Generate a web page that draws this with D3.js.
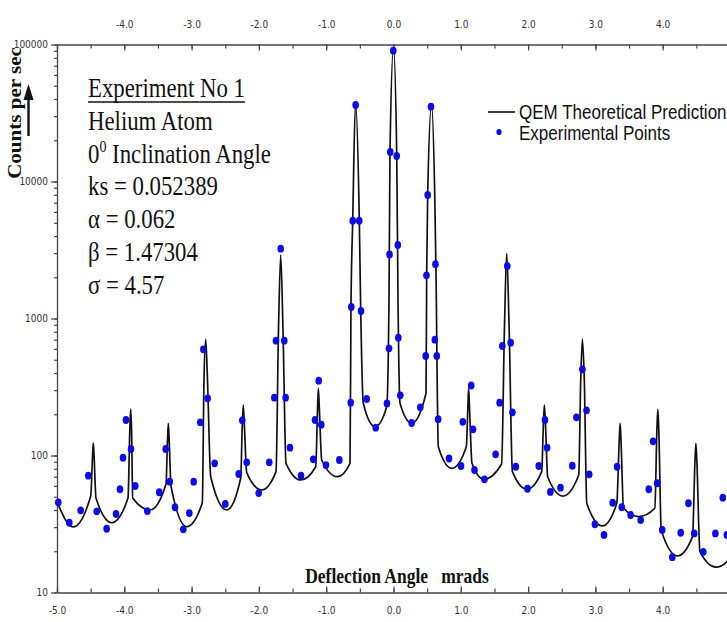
<!DOCTYPE html>
<html>
<head>
<meta charset="utf-8">
<script src="https://cdn.jsdelivr.net/npm/d3@7"></script>
<style>
  body { margin: 0; background: #fff; }
  svg { display: block; }
</style>
</head>
<body>
<div id="chart"></div>
<script>
// x ticks (mrad) and y decades
var xMajor = [-5, -4, -3, -2, -1, 0, 1, 2, 3, 4, 5];
var xTopLabels = [-4, -3, -2, -1, 0, 1, 2, 3, 4];
var xBottomLabels = [-5, -4, -3, -2, -1, 0, 1, 2, 3, 4];
var yMajor = [10, 100, 1000, 10000, 100000];

// QEM theoretical prediction
var theoryX = [-5.000, -4.762, -4.499, -4.472, -4.461, -4.449, -4.421, -4.187, -3.945, -3.918,
  -3.905, -3.892, -3.875, -3.618, -3.380, -3.358, -3.346, -3.333, -3.306, -3.073,
  -2.841, -2.816, -2.790, -2.764, -2.716, -2.478, -2.270, -2.247, -2.232, -2.216,
  -2.181, -1.958, -1.746, -1.709, -1.676, -1.642, -1.597, -1.379, -1.156, -1.129,
  -1.117, -1.101, -1.067, -0.835, -0.646, -0.632, -0.606, -0.565, -0.508, -0.487,
  -0.449, -0.275, -0.101, -0.067, -0.052, 0.000, 0.048, 0.067, 0.097, 0.270,
  0.483, 0.493, 0.508, 0.565, 0.614, 0.630, 0.666, 0.866, 1.082, 1.106,
  1.116, 1.128, 1.166, 1.342, 1.606, 1.648, 1.682, 1.719, 1.767, 1.982,
  2.202, 2.227, 2.242, 2.259, 2.291, 2.517, 2.752, 2.782, 2.807, 2.835,
  2.872, 3.103, 3.318, 3.354, 3.367, 3.380, 3.418, 3.642, 3.883, 3.914,
  3.927, 3.942, 3.978, 4.218, 4.443, 4.480, 4.493, 4.507, 4.553, 4.794,
  4.955, 5.000];
var theoryY = [46.0, 30.1, 50.6, 99.2, 123.4, 99.2, 48.9, 32.3, 48.9, 153.5,
  218.5, 153.5, 48.9, 40.0, 61.9, 129.8, 171.8, 129.8, 59.9, 30.2,
  45.2, 355.7, 705, 355.7, 70.0, 40.0, 68.5, 167, 233.7, 167,
  74.9, 56.0, 76.2, 824, 2907, 824, 87.7, 66.3, 82.8, 214.8,
  309.4, 214.8, 92.7, 70.0, 87.7, 1219, 5174, 37410, 5174, 1134,
  240.4, 162.3, 227.1, 1365, 16500, 94300, 15350, 1365, 240.4, 171.8,
  284.4, 2077, 7970, 36180, 7328, 2458, 115.9, 80.6, 115.9, 233.7,
  309.4, 233.7, 87.7, 67.0, 86.7, 824, 2991, 824, 76.2, 56.7,
  76.2, 167, 233.7, 167, 70.0, 50.6, 72.1, 355.7, 708.6, 355.7,
  44.8, 30.6, 44.8, 129.8, 171.8, 129.8, 41.2, 35.8, 41.2, 153.5,
  217.4, 153.5, 28.6, 18.5, 25.6, 92.7, 122.7, 92.7, 19.9, 15.3,
  16.8, 18.8];

// experimental points
var expX = [-4.981, -4.817, -4.648, -4.535, -4.410, -4.262, -4.123, -4.064, -4.019, -3.975,
  -3.900, -3.837, -3.658, -3.480, -3.385, -3.325, -3.247, -3.123, -3.034, -2.969,
  -2.871, -2.826, -2.761, -2.657, -2.499, -2.300, -2.247, -2.181, -2.003, -1.846,
  -1.771, -1.746, -1.676, -1.623, -1.602, -1.538, -1.374, -1.192, -1.166, -1.111,
  -1.073, -1.003, -0.805, -0.636, -0.627, -0.606, -0.562, -0.508, -0.483, -0.398,
  -0.264, -0.097, -0.067, -0.059, -0.048, -0.003, 0.048, 0.064, 0.071, 0.101,
  0.270, 0.398, 0.478, 0.490, 0.508, 0.557, 0.614, 0.624, 0.643, 0.664,
  0.825, 1.003, 1.030, 1.155, 1.181, 1.204, 1.351, 1.517, 1.577, 1.617,
  1.691, 1.741, 1.767, 1.817, 1.991, 2.158, 2.251, 2.282, 2.331, 2.481,
  2.657, 2.718, 2.807, 2.868, 2.908, 2.993, 3.128, 3.257, 3.322, 3.392,
  3.523, 3.673, 3.793, 3.857, 3.918, 3.993, 4.143, 4.268, 4.383, 4.468,
  4.603, 4.783, 4.893, 4.954];
var expY = [45.5, 32.3, 39.8, 71.2, 39.1, 29.2, 37.4, 56.7, 96.3, 181.6,
  111.5, 59.9, 39.3, 53.9, 111.5, 64.4, 41.9, 28.9, 38.0, 64.4,
  174.7, 595.8, 261.6, 87.7, 44.3, 73.3, 180.7, 89.2, 53.2, 89.2,
  264.2, 688.7, 3232, 688.7, 264.2, 114.0, 71.2, 93.8, 181.6, 351.6,
  167.8, 85.2, 92.7, 242.9, 1213, 5174, 36180, 5174, 1134, 258.5,
  159.6, 239.7, 606, 2933, 16420, 90110, 15350, 3440, 724, 275.1,
  172.7, 224.8, 532.5, 2067, 7970, 35160, 700.3, 2491, 532.5, 184.1,
  95.1, 83.8, 176.2, 324.3, 155.3, 78.4, 67.0, 102.0, 242.9, 630,
  2417, 666, 206.7, 82.8, 57.2, 83.8, 181.6, 114.0, 54.2, 58.2,
  84.2, 190.1, 425.8, 213.8, 72.9, 31.5, 26.3, 45.2, 82.8, 41.9,
  36.8, 33.8, 56.7, 126.9, 62.7, 28.6, 18.1, 27.3, 44.8, 27.0,
  19.8, 27.0, 49.2, 26.3];

var infoLines = ["Experiment No 1", "Helium Atom", "0|0| Inclination Angle",
  "ks = 0.052389", "\u03b1 = 0.062", "\u03b2 = 1.47304", "\u03c3 = 4.57"];
var legendLabels = ["QEM Theoretical Prediction", "Experimental Points"];
var xTitle = "Deflection Angle   mrads";
var yTitle = "Counts per sec";

var W = 727, H = 622;
var stretch = 1.17;   // the original is squashed sideways
var tickFont = "'Liberation Sans Narrow', 'DejaVu Sans Condensed', 'Arial Narrow', sans-serif";
var serif = "'Liberation Serif', 'Times New Roman', serif";
var dotColor = "#0a0af2";

var x = d3.scaleLinear().domain([-5, 5]).range([57, 730]);
var y = d3.scaleLog().domain([10, 100000]).range([592.5, 44.5]);

var svg = d3.select("#chart").append("svg")
    .attr("width", W)
    .attr("height", H);

function styleAxis(g) {
    g.select(".domain").attr("stroke", "#444").attr("stroke-width", 1.3);
    g.selectAll(".tick line").attr("stroke", "#444").attr("stroke-width", 1.2);
    g.selectAll(".tick text")
        .attr("font-family", tickFont)
        .attr("font-size", 10)
        .attr("fill", "#333");
}

function fmt(d) { return d.toFixed(1); }

// top axis
svg.append("g")
    .attr("transform", "translate(0," + y(100000) + ")")
    .call(d3.axisTop(x).ticks(20).tickSize(-4).tickSizeOuter(0).tickFormat(""))
    .call(styleAxis);
svg.append("g")
    .attr("transform", "translate(0," + y(100000) + ")")
    .call(d3.axisTop(x).tickValues(xMajor).tickSizeInner(-6).tickSizeOuter(0).tickFormat(""))
    .call(styleAxis)
    .call(function(g){ g.select(".domain").remove(); });
svg.append("g")
    .attr("transform", "translate(0," + y(100000) + ")")
    .call(d3.axisTop(x).tickValues(xTopLabels).tickSize(0).tickPadding(17).tickFormat(fmt))
    .call(styleAxis)
    .call(function(g){ g.select(".domain").remove(); });

// bottom axis
svg.append("g")
    .attr("transform", "translate(0," + y(10) + ")")
    .call(d3.axisBottom(x).ticks(20).tickSize(-4).tickSizeOuter(0).tickFormat(""))
    .call(styleAxis);
svg.append("g")
    .attr("transform", "translate(0," + y(10) + ")")
    .call(d3.axisBottom(x).tickValues(xMajor).tickSizeInner(-6).tickSizeOuter(0).tickFormat(""))
    .call(styleAxis)
    .call(function(g){ g.select(".domain").remove(); });
svg.append("g")
    .attr("transform", "translate(0," + y(10) + ")")
    .call(d3.axisBottom(x).tickValues(xBottomLabels).tickSize(0).tickPadding(14).tickFormat(fmt))
    .call(styleAxis)
    .call(function(g){ g.select(".domain").remove(); });

// left axis
svg.append("g")
    .attr("transform", "translate(" + x(-5) + ",0)")
    .call(d3.axisLeft(y).tickValues(y.ticks()).tickSize(3).tickSizeOuter(0).tickFormat(""))
    .call(styleAxis);
svg.append("g")
    .attr("transform", "translate(" + x(-5) + ",0)")
    .call(d3.axisLeft(y).tickValues(yMajor).tickSize(6).tickSizeOuter(0)
        .tickPadding(3).tickFormat(function(d){ return String(d); }))
    .call(styleAxis)
    .call(function(g){ g.select(".domain").remove(); });

// theory curve
var theory = theoryX.map(function(d, i){ return [d, theoryY[i]]; });
var line = d3.line()
    .x(function(d){ return x(d[0]); })
    .y(function(d){ return y(d[1]); })
    .curve(d3.curveMonotoneX);

svg.append("path")
    .datum(theory)
    .attr("d", line)
    .attr("fill", "none")
    .attr("stroke", "#111")
    .attr("stroke-width", 1.7)
    .attr("stroke-linejoin", "round");

// experimental points
var points = expX.map(function(d, i){ return [d, expY[i]]; });
svg.append("g").selectAll("ellipse")
    .data(points)
    .enter().append("ellipse")
    .attr("cx", function(d){ return x(d[0]); })
    .attr("cy", function(d){ return y(d[1]); })
    .attr("rx", 3.3)
    .attr("ry", 3.9)
    .attr("fill", dotColor);

// info block
var info = svg.append("g").attr("font-family", serif).attr("fill", "#111");
infoLines.forEach(function(s, i) {
    var t = info.append("text")
        .attr("transform", "translate(88," + (97 + i * 32.8) + ") scale(1," + stretch + ")")
        .attr("font-size", 22.8);
    var parts = s.split("|");
    if (parts.length == 3) {
        t.append("tspan").text(parts[0]);
        t.append("tspan").attr("font-size", 14).attr("dy", -9).text(parts[1]);
        t.append("tspan").attr("dy", 9).text(parts[2]);
    } else {
        t.text(s);
    }
    if (i == 0) {
        var w = t.node().getComputedTextLength();
        info.append("line")
            .attr("x1", 88).attr("x2", 88 + w)
            .attr("y1", 102).attr("y2", 102)
            .attr("stroke", "#111").attr("stroke-width", 1.3);
    }
});

// legend
var legend = svg.append("g").attr("font-family", "'Liberation Sans', Arial, sans-serif");
legend.append("line")
    .attr("x1", 488).attr("x2", 515)
    .attr("y1", 112).attr("y2", 112)
    .attr("stroke", "#111").attr("stroke-width", 1.6);
legend.append("ellipse")
    .attr("cx", 499).attr("cy", 132)
    .attr("rx", 2.6).attr("ry", 3.1)
    .attr("fill", dotColor);
legend.selectAll("text")
    .data(legendLabels)
    .enter().append("text")
    .attr("transform", function(d, i){ return "translate(519," + (119 + i * 20.5) + ") scale(1," + stretch + ")"; })
    .attr("font-size", 17)
    .attr("fill", "#111")
    .text(function(d){ return d; });

// axis titles
svg.append("text")
    .attr("transform", "translate(397,583) scale(1," + stretch + ")")
    .attr("text-anchor", "middle")
    .attr("font-family", serif)
    .attr("font-weight", "bold")
    .attr("font-size", 17.5)
    .attr("xml:space", "preserve")
    .style("white-space", "pre")
    .attr("fill", "#111")
    .text(xTitle);

svg.append("text")
    .attr("transform", "translate(21,113) scale(1," + stretch + ") rotate(-90)")
    .attr("text-anchor", "middle")
    .attr("font-family", serif)
    .attr("font-weight", "bold")
    .attr("font-size", 18)
    .attr("fill", "#111")
    .text(yTitle);

// little arrow beside the y title
svg.append("line")
    .attr("x1", 28.5).attr("x2", 28.5)
    .attr("y1", 136).attr("y2", 96)
    .attr("stroke", "#111").attr("stroke-width", 2.4);
svg.append("path")
    .attr("d", "M28.5,84 L23.5,100 L33.5,100 Z")
    .attr("fill", "#111");
</script>
</body>
</html>
